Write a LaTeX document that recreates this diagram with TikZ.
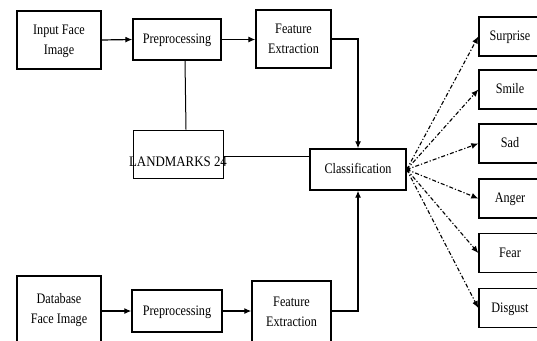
\documentclass[tikz,border=0pt]{standalone}
\usepackage{fontspec}
\setmainfont{Liberation Serif}
\usetikzlibrary{arrows.meta}
\newcommand{\txt}[1]{\scalebox{0.84}[1]{\begin{tabular}{@{}c@{}}#1\end{tabular}}}
\begin{document}
\begin{tikzpicture}[x=1pt,y=-1pt,
  box/.style={draw, line width=1.4pt, inner sep=0pt, align=center, font=\fontsize{14.5}{20}\selectfont},
  link/.style={line width=1pt},
  arr/.style={line width=1.2pt, -{Latex[length=7pt,width=6pt]}},
  dd/.style={line width=1.1pt, dash pattern=on 4pt off 2pt on 1.2pt off 2pt, -{Latex[length=7pt,width=6pt]}}]
\useasboundingbox (0,0) rectangle (537,340);
\fill[white] (0,0) rectangle (537,340);
\node[box, minimum width=84pt, minimum height=58pt] (in) at (59,40) {\txt{Input Face\\Image}};
\node[box, minimum width=88pt, minimum height=41pt] (pre1) at (177,39.5) {\txt{Preprocessing}};
\node[box, minimum width=75pt, minimum height=58pt] (fe1) at (293.5,39) {\txt{Feature\\Extraction}};
\node[draw, line width=1pt, minimum width=90pt, minimum height=48pt, inner sep=0pt] (land) at (178,154) {};
\node[font=\fontsize{14.5}{20}\selectfont, inner sep=0pt] (landtxt) at ([yshift=-8pt]land.center) {\scalebox{0.89}[1]{LANDMARKS 24}};
\node[box, minimum width=96pt, minimum height=41pt] (cls) at (358,169.5) {\txt{Classification}};
\node[box, minimum width=84pt, minimum height=66pt] (db) at (59,309) {\txt{Database\\Face Image}};
\node[box, minimum width=90pt, minimum height=42pt] (pre2) at (177,311) {\txt{Preprocessing}};
\node[box, minimum width=79pt, minimum height=62pt] (fe2) at (291.5,312) {\txt{Feature\\Extraction}};
\foreach \n/\t/\y in {sur/Surprise/36.5, smi/Smile/89.5, sad/Sad/143.5, ang/Anger/198.5, fea/Fear/253, dis/Disgust/308}{
  \node[box, minimum width=62pt, minimum height=39pt] (\n) at (510,\y) {\txt{\t}};
}
\draw[arr] (in.east) -- (pre1.west);
\draw[arr] (pre1.east) -- (pre1.east -| fe1.west);
\draw[link] ([xshift=8pt]pre1.south) -- ([xshift=8pt]land.north);
\draw[link] ([yshift=-2pt]land.east) -- ([yshift=-2pt]land.east -| cls.west);
\draw[arr] (fe1.east) -| (cls.north);
\draw[arr] (db.east |- pre2.west) -- (pre2.west);
\draw[arr] (pre2.east) -- (pre2.east -| fe2.west);
\draw[arr] (fe2.east |- pre2.east) -| (cls.south);
\fill ([xshift=1pt]cls.east) circle (2.5pt);
\foreach \n in {sur,smi,sad,ang,fea,dis}{
  \draw[dd] (cls.east) -- (\n.west);
}
\end{tikzpicture}
\end{document}
